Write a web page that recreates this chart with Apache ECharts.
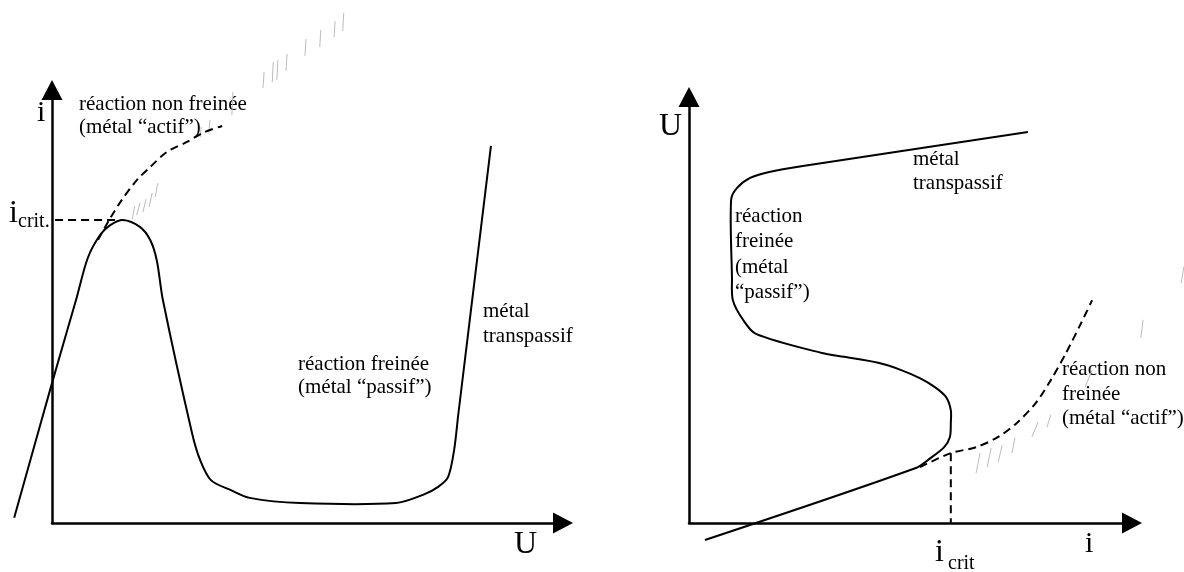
<!DOCTYPE html>
<html>
<head>
<meta charset="utf-8">
<script src="https://cdn.jsdelivr.net/npm/echarts@6/dist/echarts.min.js"></script>
<style>
  html, body { margin: 0; padding: 0; background: #fff; }
  #chart { width: 1184px; height: 572px; }
</style>
</head>
<body>
<div id="chart"></div>
<script>
// left panel : i = f(U), axes in arbitrary units 0..100
const leftSolid = [
  [-7.4, 1.2], [0, 32.3], [4.7, 51.5], [7.0, 61.2], [9.4, 66.5], [11.4, 68.8],
  [13.9, 70.0], [17.2, 68.4], [19.2, 65.4], [20.5, 60.7], [21.7, 51.5],
  [27.4, 20.8], [29.0, 14.5], [31.1, 9.9], [35.0, 7.6], [38.7, 5.8],
  [48.5, 4.6], [67.3, 4.6], [72.6, 6.5], [75.5, 8.3], [77.5, 10.6],
  [78.7, 16.9], [79.5, 25.0], [85.9, 87.1]
]
const leftDashed = [
  [9.0, 65.4], [11.4, 70.4], [13.6, 74.5], [16.6, 79.2], [19.2, 82.2],
  [22.5, 85.7], [26.4, 88.0], [29.5, 90.1], [33.3, 91.7]
]
const leftCrit = [[0.6, 70.0], [13.3, 70.0]]
const leftHatch = [
  [15.7, 70.2, 16.2, 73.2], [16.6, 71.1, 17.2, 73.9], [17.8, 71.8, 18.4, 74.8],
  [19.0, 73.0, 19.6, 76.2], [20.2, 75.3, 20.7, 78.5], [29.0, 89.1, 29.2, 91.5],
  [30.7, 90.1, 30.9, 93.1], [35.2, 94.2, 35.4, 99.5], [41.3, 100.5, 41.5, 104.2],
  [43.1, 101.8, 43.3, 106.5], [44.0, 102.3, 44.2, 106.9], [45.8, 104.4, 46.0, 108.3],
  [49.5, 107.9, 49.7, 111.8], [52.4, 109.9, 52.6, 113.9], [55.2, 112.2, 55.4, 115.9],
  [56.9, 113.6, 57.1, 117.8]
]

// right panel : U = f(i)
const rightSolid = [
  [3.6, -4.0], [51.2, 12.9], [54.6, 15.3], [57.6, 17.8], [58.9, 20.2],
  [59.1, 23.5], [59.1, 26.5], [58.0, 29.6], [55.5, 31.9], [52.1, 34.0],
  [47.9, 35.9], [42.7, 37.6], [35.0, 39.0], [30.0, 39.9], [15.1, 44.4],
  [12.2, 47.7], [9.9, 52.3], [9.7, 57.7], [9.5, 75.8], [10.8, 78.6],
  [13.8, 81.0], [18.1, 82.4], [25.7, 83.8], [76.5, 91.8]
]
const rightDashed = [
  [52.1, 13.1], [59.1, 16.4], [64.8, 17.8], [69.8, 20.2], [74.0, 23.5],
  [78.3, 28.2], [81.7, 33.6], [85.1, 39.9], [88.5, 46.9], [91.0, 52.3]
]
const rightCrit = [[59.1, 16.4], [59.1, 0]]
const rightHatch = [
  [64.8, 11.7, 65.7, 16.4], [67.3, 13.1, 68.2, 17.6], [69.8, 14.3, 70.7, 18.3],
  [72.9, 16.4, 73.6, 20.0], [77.4, 20.2, 78.8, 23.7], [80.8, 22.5, 81.7, 25.4],
  [89.4, 31.9, 91.0, 35.9], [102.0, 43.4, 102.5, 47.7], [111.1, 56.3, 111.7, 60.1]
]

const serif = '"Liberation Serif", "DejaVu Serif", serif'

function axis (grid) {
  return {
    type: 'value',
    gridIndex: grid,
    min: 0,
    max: 100,
    axisLine: {
      show: true,
      symbol: ['none', 'triangle'],
      symbolSize: [21, 20],
      lineStyle: { color: '#000', width: 2.5 }
    },
    axisTick: { show: false },
    axisLabel: { show: false },
    splitLine: { show: false }
  }
}

// one polyline per series, coords through the axes of grid idx
function curve (idx, pts, dashed, smooth) {
  return {
    type: 'custom',
    xAxisIndex: idx,
    yAxisIndex: idx,
    clip: false,
    silent: true,
    data: [[0, 0]],
    renderItem: function (params, api) {
      return {
        type: 'polyline',
        shape: { points: pts.map(p => api.coord(p)), smooth: smooth },
        style: {
          stroke: '#000',
          fill: null,
          lineWidth: 2,
          lineDash: dashed ? [8, 5] : null
        }
      }
    }
  }
}

function hatch (idx, segs) {
  return {
    type: 'lines',
    coordinateSystem: 'cartesian2d',
    xAxisIndex: idx,
    yAxisIndex: idx,
    clip: false,
    silent: true,
    lineStyle: { color: '#bdbdbd', width: 1, opacity: 1 },
    data: segs.map(s => ({ coords: [[s[0], s[1]], [s[2], s[3]]] }))
  }
}

function txt (x, y, str, size) {
  return {
    type: 'text',
    x: x,
    y: y,
    style: {
      text: str,
      font: (size || 21) + 'px ' + serif,
      fill: '#000',
      verticalAlign: 'middle'
    }
  }
}

const chart = echarts.init(document.getElementById('chart'))
chart.setOption({
  animation: false,
  backgroundColor: '#fff',
  grid: [
    { left: 52, top: 90, width: 511, height: 433 },
    { left: 689, top: 97, width: 443, height: 426 }
  ],
  xAxis: [axis(0), axis(1)],
  yAxis: [axis(0), axis(1)],
  series: [
    hatch(0, leftHatch),
    hatch(1, rightHatch),
    curve(0, leftSolid, false, 0.3),
    curve(0, leftDashed, true, 0.3),
    curve(0, leftCrit, true, 0),
    curve(1, rightSolid, false, 0.3),
    curve(1, rightDashed, true, 0.3),
    curve(1, rightCrit, true, 0)
  ],
  graphic: [
    // left panel
    txt(37, 113, 'i', 30),
    txt(514, 545, 'U', 32),
    txt(9, 214, 'i', 32),
    txt(18, 222, 'crit.', 20),
    txt(79, 104, 'réaction non freinée'),
    txt(79, 127, '(métal “actif”)'),
    txt(298, 364, 'réaction freinée'),
    txt(298, 387, '(métal “passif”)'),
    txt(483, 311, 'métal'),
    txt(483, 336, 'transpassif'),
    // right panel
    txt(659, 127, 'U', 32),
    txt(1085, 544, 'i', 30),
    txt(935, 553, 'i', 32),
    txt(948, 564, 'crit', 20),
    txt(913, 159, 'métal'),
    txt(913, 183, 'transpassif'),
    txt(735, 216, 'réaction'),
    txt(735, 241, 'freinée'),
    txt(735, 267, '(métal'),
    txt(735, 292, '“passif”)'),
    txt(1062, 369, 'réaction non'),
    txt(1062, 394, 'freinée'),
    txt(1062, 418, '(métal “actif”)')
  ]
})
</script>
</body>
</html>
